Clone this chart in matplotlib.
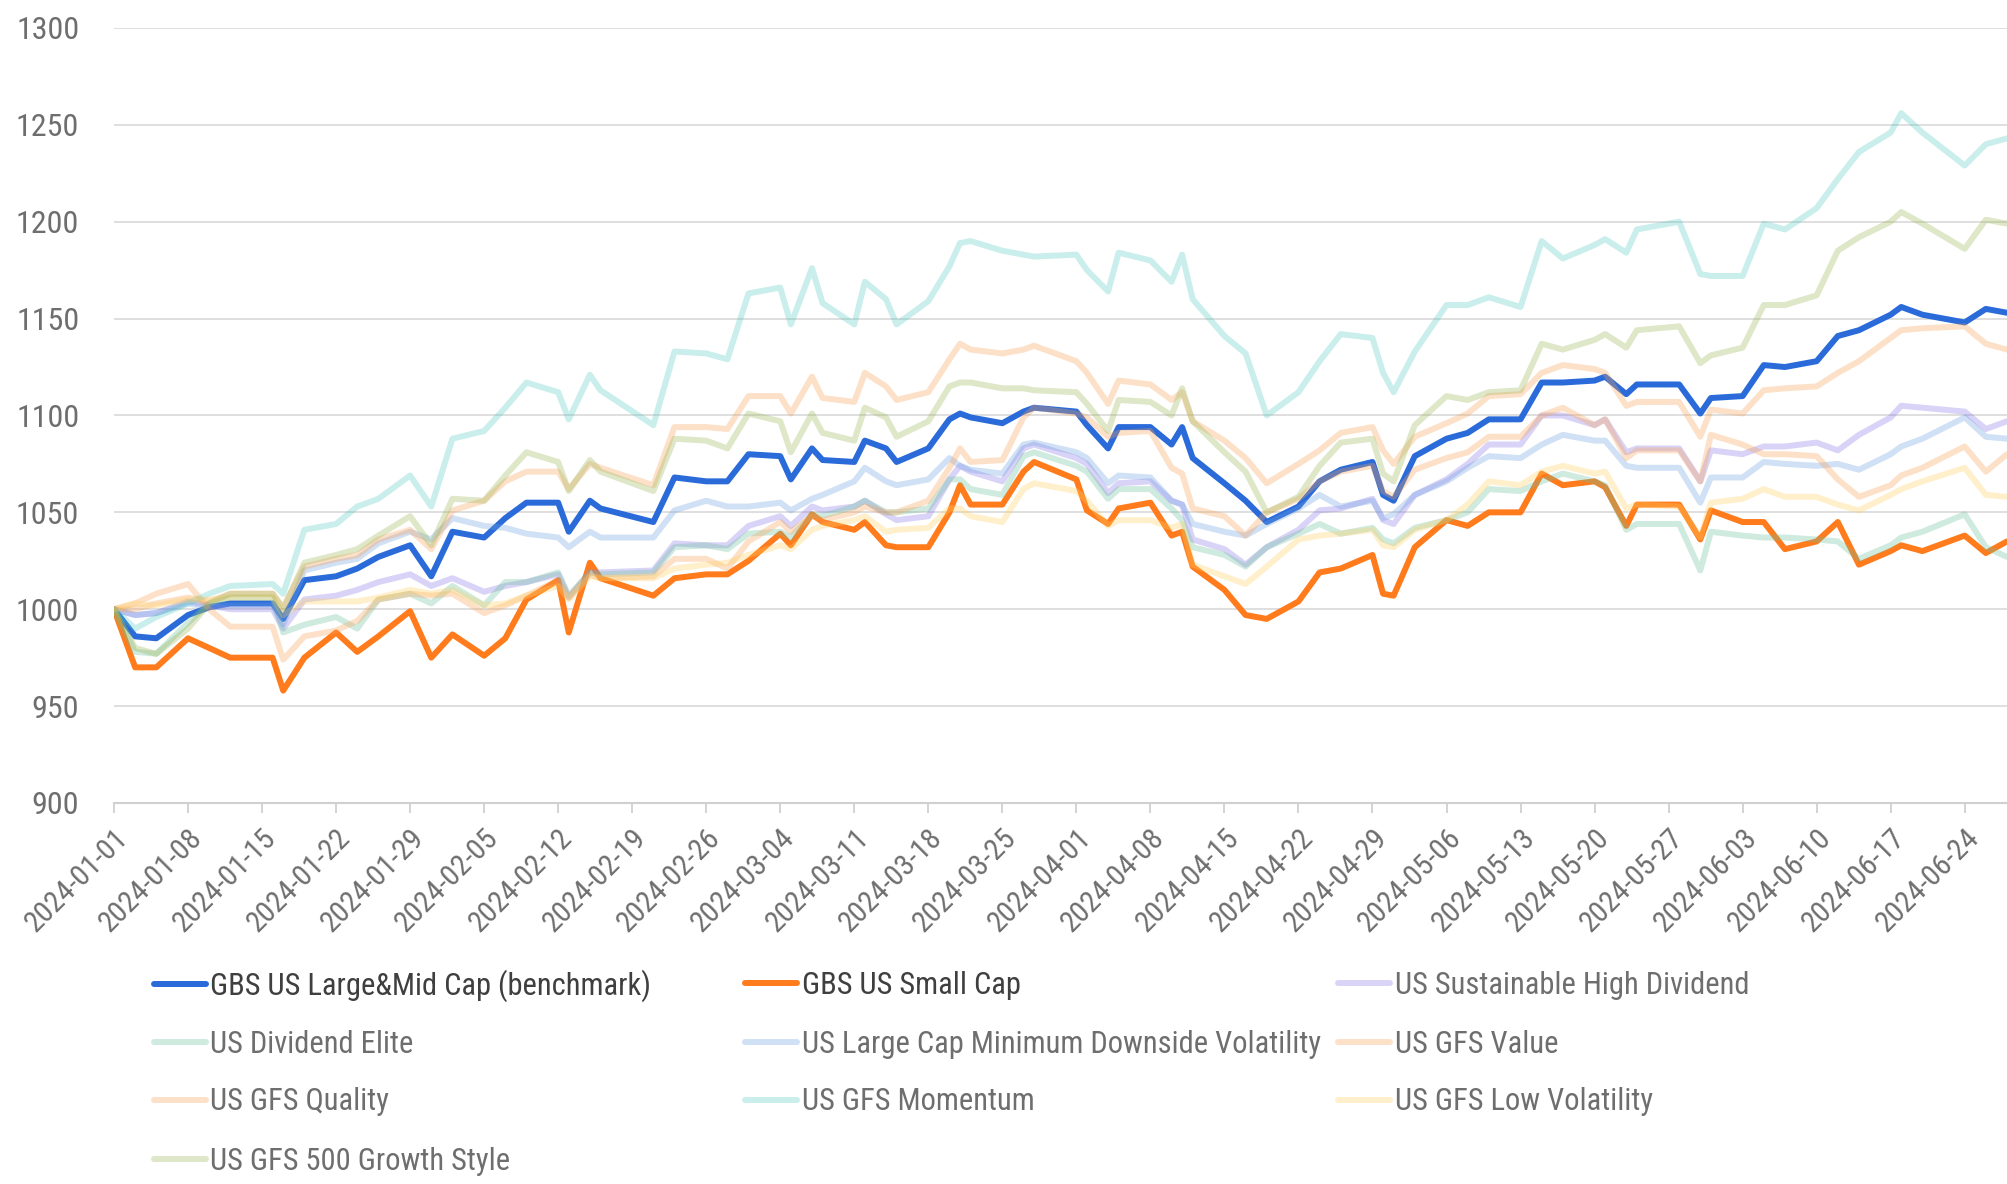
import matplotlib
matplotlib.use("Agg")
import matplotlib.pyplot as plt
import matplotlib.dates as mdates
from matplotlib import font_manager
import pandas as pd

# trading days used for the curves
dates = [
    "2024-01-01", "2024-01-03", "2024-01-05", "2024-01-08", "2024-01-10", "2024-01-12",
    "2024-01-16", "2024-01-17", "2024-01-19", "2024-01-22", "2024-01-24", "2024-01-26",
    "2024-01-29", "2024-01-31", "2024-02-02", "2024-02-05", "2024-02-07", "2024-02-09",
    "2024-02-12", "2024-02-13", "2024-02-15", "2024-02-16", "2024-02-21", "2024-02-23",
    "2024-02-26", "2024-02-28", "2024-03-01", "2024-03-04", "2024-03-05", "2024-03-07",
    "2024-03-08", "2024-03-11", "2024-03-12", "2024-03-14", "2024-03-15", "2024-03-18",
    "2024-03-20", "2024-03-21", "2024-03-22", "2024-03-25", "2024-03-27", "2024-03-28",
    "2024-04-01", "2024-04-02", "2024-04-04", "2024-04-05", "2024-04-08", "2024-04-10",
    "2024-04-11", "2024-04-12", "2024-04-15", "2024-04-17", "2024-04-19", "2024-04-22",
    "2024-04-24", "2024-04-26", "2024-04-29", "2024-04-30", "2024-05-01", "2024-05-03",
    "2024-05-06", "2024-05-08", "2024-05-10", "2024-05-13", "2024-05-15", "2024-05-17",
    "2024-05-20", "2024-05-21", "2024-05-23", "2024-05-24", "2024-05-28", "2024-05-30",
    "2024-05-31", "2024-06-03", "2024-06-05", "2024-06-07", "2024-06-10", "2024-06-12",
    "2024-06-14", "2024-06-17", "2024-06-18", "2024-06-20", "2024-06-24", "2024-06-26",
    "2024-06-28",
]

benchmark = [1000, 986, 985, 997, 1001, 1003, 1003, 995, 1015, 1017, 1021, 1027, 1033, 1017, 1040,
             1037, 1047, 1055, 1055, 1040, 1056, 1052, 1045, 1068, 1066, 1066, 1080, 1079, 1067, 1083,
             1077, 1076, 1087, 1083, 1076, 1083, 1098, 1101, 1099, 1096, 1102, 1104, 1102, 1095, 1083,
             1094, 1094, 1085, 1094, 1078, 1065, 1056, 1045, 1053, 1066, 1072, 1076, 1059, 1056, 1079,
             1088, 1091, 1098, 1098, 1117, 1117, 1118, 1120, 1111, 1116, 1116, 1101, 1109, 1110, 1126,
             1125, 1128, 1141, 1144, 1152, 1156, 1152, 1148, 1155, 1153]
small_cap = [1000, 970, 970, 985, 980, 975, 975, 958, 975, 988, 978, 986, 999, 975, 987,
             976, 985, 1005, 1015, 988, 1024, 1016, 1007, 1016, 1018, 1018, 1025, 1039, 1033, 1049,
             1045, 1041, 1045, 1033, 1032, 1032, 1050, 1064, 1054, 1054, 1071, 1076, 1067, 1051, 1044,
             1052, 1055, 1038, 1040, 1022, 1010, 997, 995, 1004, 1019, 1021, 1028, 1008, 1007, 1032,
             1046, 1043, 1050, 1050, 1070, 1064, 1066, 1063, 1043, 1054, 1054, 1036, 1051, 1045, 1045,
             1031, 1035, 1045, 1023, 1030, 1033, 1030, 1038, 1029, 1035]
sust_high_div = [1000, 997, 998, 1004, 1002, 1000, 1000, 990, 1005, 1007, 1010, 1014, 1018, 1012, 1016,
                 1009, 1012, 1014, 1018, 1006, 1019, 1019, 1020, 1034, 1033, 1033, 1043, 1048, 1043, 1053,
                 1051, 1053, 1056, 1049, 1046, 1048, 1067, 1074, 1071, 1066, 1083, 1085, 1078, 1075, 1060,
                 1065, 1066, 1056, 1054, 1036, 1031, 1023, 1032, 1041, 1051, 1052, 1057, 1046, 1044, 1059,
                 1067, 1075, 1085, 1085, 1100, 1100, 1095, 1098, 1081, 1083, 1083, 1066, 1082, 1080, 1084,
                 1084, 1086, 1082, 1090, 1099, 1105, 1104, 1102, 1093, 1097]
div_elite = [1000, 978, 977, 993, 1003, 1006, 1006, 988, 992, 996, 990, 1005, 1008, 1003, 1012,
             1002, 1014, 1014, 1019, 1007, 1019, 1018, 1019, 1032, 1033, 1031, 1039, 1040, 1037, 1049,
             1048, 1053, 1056, 1050, 1050, 1052, 1067, 1067, 1062, 1059, 1079, 1081, 1074, 1071, 1057,
             1062, 1062, 1052, 1046, 1032, 1028, 1022, 1032, 1039, 1044, 1039, 1042, 1036, 1034, 1042,
             1046, 1050, 1062, 1061, 1066, 1070, 1066, 1064, 1041, 1044, 1044, 1020, 1040, 1038, 1037,
             1037, 1036, 1035, 1026, 1033, 1037, 1040, 1049, 1032, 1027]
min_down_vol = [1000, 997, 998, 1003, 1001, 1002, 1002, 992, 1020, 1024, 1026, 1034, 1040, 1036, 1047,
                1043, 1042, 1039, 1037, 1032, 1040, 1037, 1037, 1051, 1056, 1053, 1053, 1055, 1051, 1057,
                1059, 1066, 1073, 1066, 1064, 1067, 1078, 1074, 1072, 1070, 1085, 1086, 1081, 1078, 1065,
                1069, 1068, 1056, 1054, 1044, 1040, 1038, 1044, 1052, 1059, 1053, 1056, 1047, 1049, 1059,
                1066, 1073, 1079, 1078, 1085, 1090, 1087, 1087, 1074, 1073, 1073, 1055, 1068, 1068, 1076,
                1075, 1074, 1075, 1072, 1080, 1084, 1088, 1099, 1089, 1088]
gfs_value = [1000, 1003, 1008, 1013, 1000, 991, 991, 974, 986, 989, 994, 1005, 1008, 1007, 1008,
             998, 1002, 1007, 1015, 1006, 1018, 1016, 1017, 1026, 1026, 1021, 1035, 1045, 1040, 1048,
             1046, 1050, 1053, 1050, 1050, 1056, 1073, 1083, 1076, 1077, 1099, 1104, 1101, 1099, 1089,
             1091, 1092, 1073, 1070, 1052, 1048, 1038, 1050, 1057, 1066, 1071, 1074, 1061, 1058, 1072,
             1078, 1081, 1089, 1089, 1100, 1104, 1095, 1098, 1078, 1082, 1082, 1066, 1090, 1085, 1080,
             1080, 1079, 1067, 1058, 1064, 1069, 1073, 1084, 1071, 1080]
gfs_quality = [1000, 1000, 1003, 1006, 1004, 1008, 1008, 1001, 1022, 1026, 1028, 1036, 1041, 1031, 1051,
               1056, 1066, 1071, 1071, 1062, 1075, 1073, 1064, 1094, 1094, 1093, 1110, 1110, 1101, 1120,
               1109, 1107, 1122, 1115, 1108, 1112, 1129, 1137, 1134, 1132, 1134, 1136, 1128, 1122, 1106,
               1118, 1116, 1108, 1112, 1097, 1087, 1078, 1065, 1075, 1082, 1091, 1094, 1082, 1075, 1089,
               1096, 1101, 1110, 1111, 1122, 1126, 1124, 1122, 1105, 1107, 1107, 1089, 1103, 1101, 1113,
               1114, 1115, 1122, 1128, 1140, 1144, 1145, 1146, 1137, 1134]
gfs_momentum = [1000, 990, 996, 1003, 1008, 1012, 1013, 1008, 1041, 1044, 1053, 1057, 1069, 1053, 1088,
                1092, 1104, 1117, 1112, 1098, 1121, 1113, 1095, 1133, 1132, 1129, 1163, 1166, 1147, 1176,
                1158, 1147, 1169, 1160, 1147, 1159, 1177, 1189, 1190, 1185, 1183, 1182, 1183, 1175, 1164,
                1184, 1180, 1169, 1183, 1160, 1141, 1132, 1100, 1112, 1128, 1142, 1140, 1122, 1112, 1133,
                1157, 1157, 1161, 1156, 1190, 1181, 1188, 1191, 1184, 1196, 1200, 1173, 1172, 1172, 1199,
                1196, 1207, 1222, 1236, 1246, 1256, 1246, 1229, 1240, 1243]
gfs_low_vol = [1000, 1003, 1002, 1005, 1005, 1006, 1006, 997, 1004, 1004, 1004, 1006, 1010, 1008, 1010,
               1002, 1003, 1007, 1012, 1005, 1017, 1016, 1016, 1021, 1023, 1024, 1028, 1033, 1031, 1041,
               1043, 1046, 1048, 1040, 1041, 1042, 1052, 1052, 1048, 1045, 1062, 1065, 1061, 1056, 1043,
               1046, 1046, 1042, 1044, 1023, 1017, 1013, 1022, 1036, 1038, 1039, 1041, 1033, 1032, 1041,
               1046, 1054, 1066, 1064, 1071, 1074, 1070, 1071, 1052, 1054, 1053, 1037, 1055, 1057, 1062,
               1058, 1058, 1054, 1051, 1059, 1062, 1066, 1073, 1059, 1058]
gfs_growth = [1000, 980, 977, 990, 1003, 1008, 1008, 1000, 1024, 1028, 1031, 1038, 1048, 1033, 1057,
              1056, 1069, 1081, 1076, 1061, 1077, 1071, 1061, 1088, 1087, 1083, 1101, 1097, 1081, 1101,
              1091, 1087, 1104, 1099, 1089, 1097, 1115, 1117, 1117, 1114, 1114, 1113, 1112, 1106, 1092,
              1108, 1107, 1100, 1114, 1097, 1081, 1071, 1050, 1058, 1074, 1086, 1088, 1070, 1066, 1095,
              1110, 1108, 1112, 1113, 1137, 1134, 1139, 1142, 1135, 1144, 1146, 1127, 1131, 1135, 1157,
              1157, 1162, 1185, 1192, 1200, 1205, 1199, 1186, 1201, 1199]

labels = ["GBS US Large&Mid Cap (benchmark)", "GBS US Small Cap", "US Sustainable High Dividend",
          "US Dividend Elite", "US Large Cap Minimum Downside Volatility", "US GFS Value",
          "US GFS Quality", "US GFS Momentum", "US GFS Low Volatility", "US GFS 500 Growth Style"]
values = [benchmark, small_cap, sust_high_div, div_elite, min_down_vol, gfs_value,
          gfs_quality, gfs_momentum, gfs_low_vol, gfs_growth]
colors = ["#2a6bd9", "#ff7b1c", "#8878e8", "#6cbf9c", "#6fa0e0", "#fba055",
          "#fba055", "#4cc9c0", "#ffd060", "#9ab552"]
alphas = [1, 1, 0.32, 0.32, 0.32, 0.32, 0.32, 0.3, 0.32, 0.32]

# pick a narrow font if one is installed
names = set(f.name for f in font_manager.fontManager.ttflist)
font = "DejaVu Sans"
scale = 0.72
for cand in ["Liberation Sans Narrow", "Roboto Condensed", "Open Sans Condensed", "Noto Sans Condensed"]:
    if cand in names:
        font = cand
        scale = 1.0
        break
plt.rcParams["font.family"] = [font, "DejaVu Sans"]

x = pd.to_datetime(dates)

fig = plt.figure(figsize=(20.07, 11.84), dpi=100)
ax = fig.add_axes([0.0568, 0.3218, 1 - 0.0568, 0.9764 - 0.3218])

lines = []
for lab, v, c, a in zip(labels, values, colors, alphas):
    ln, = ax.plot(x, v, color=c, alpha=a, lw=4.3, label=lab,
                  solid_joinstyle="round", solid_capstyle="round")
    lines.append(ln)

ax.set_ylim(900, 1300)
ax.set_yticks(range(900, 1301, 50))
ax.set_xlim(pd.Timestamp("2024-01-01"), pd.Timestamp("2024-06-28"))
ax.set_xticks(pd.date_range("2024-01-01", "2024-06-24", freq="7D"))
ax.xaxis.set_major_formatter(mdates.DateFormatter("%Y-%m-%d"))

ax.grid(axis="y", color="#dcdcdc", lw=1.3)
ax.set_axisbelow(True)
for s in ["top", "right", "left"]:
    ax.spines[s].set_visible(False)
ax.spines["bottom"].set_color("#d0d0d0")
ax.spines["bottom"].set_linewidth(1.5)

ax.tick_params(axis="y", length=0, pad=25, labelsize=23 * scale, labelcolor="#6e6e6e")
ax.tick_params(axis="x", length=7, width=1.3, color="#d0d0d0", pad=8,
               labelsize=21.5 * scale, labelcolor="#6e6e6e")
for t in ax.get_xticklabels():
    t.set_rotation(45)
    t.set_ha("right")
    t.set_rotation_mode("anchor")

# legend: 3 columns filled row by row, one entry per slot
col_x = [0.0767, 0.3712, 0.6667]
row_y = [0.1676, 0.1178, 0.0693, 0.0194]
for i, ln in enumerate(lines):
    r, c = divmod(i, 3)
    leg = fig.legend([ln], [labels[i]], loc="center left",
                     bbox_to_anchor=(col_x[c], row_y[r]),
                     bbox_transform=fig.transFigure, frameon=False,
                     fontsize=22 * scale, handlelength=1.7 / scale, handletextpad=0.15,
                     borderpad=0, borderaxespad=0)
    leg.get_texts()[0].set_color("#3f3f3f" if i < 2 else "#6e6e6e")

fig.savefig("out.png", dpi=100)
